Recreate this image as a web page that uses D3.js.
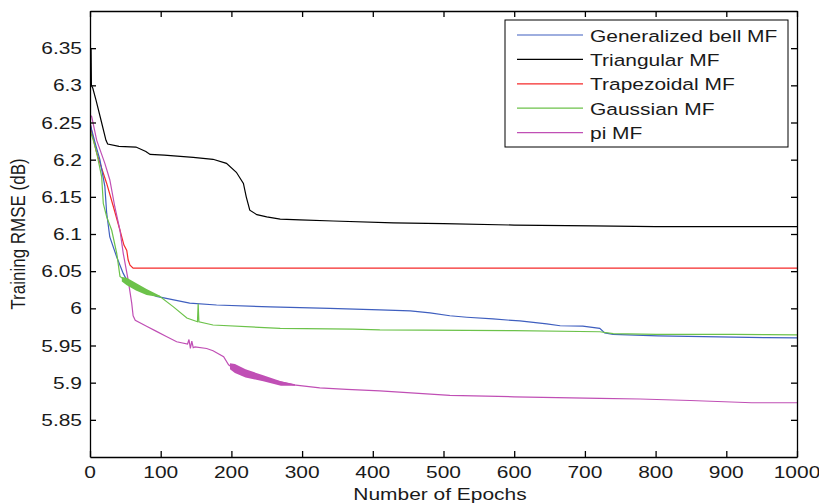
<!DOCTYPE html>
<html>
<head>
<meta charset="utf-8">
<script src="https://cdn.jsdelivr.net/npm/d3@7"></script>
<style>
  html, body { margin: 0; padding: 0; background: #fff; }
  svg text { font-family: "Liberation Sans", Arial, sans-serif; fill: #1a1a1a; }
</style>
</head>
<body>
<script>
// series names, in legend order
const seriesNames = ["Generalized bell MF", "Triangular MF", "Trapezoidal MF", "Gaussian MF", "pi MF"];
const seriesColors = ["#3f5fbf", "#000000", "#f52a2a", "#6cc24a", "#c04fb5"];

// [epoch, training RMSE]
const bellMF = [[0,6.25],[2.4,6.24],[8,6.22],[14,6.2],[21,6.164],[23.6,6.128],[28,6.096],[37.8,6.069],[47,6.047],[52,6.038],[56.6,6.034],[75,6.024],[94,6.016],[141,6.007],[179,6.0045],[255,6.002],[339,6.0],[410,5.998],[453,5.9965],[481,5.994],[509,5.99],[533,5.988],[570,5.9857],[608,5.983],[646,5.979],[665,5.9766],[697,5.976],[721,5.973],[728,5.967],[740,5.965],[803,5.963],[957,5.9605],[1000,5.9603]];
const triangularMF = [[0,6.33],[0.5,6.36],[1,6.31],[1.5,6.35],[2,6.3],[4,6.296],[8.5,6.28],[15.6,6.253],[22.6,6.226],[25,6.221],[41,6.218],[65,6.217],[79,6.211],[85,6.207],[105,6.206],[146,6.203],[174,6.2005],[193,6.195],[207,6.183],[217,6.168],[221,6.15],[226,6.132],[236,6.126],[250,6.123],[269,6.12],[297,6.119],[344,6.1175],[429,6.115],[500,6.114],[600,6.112],[711,6.111],[800,6.11],[1000,6.11]];
const trapezoidalMF = [[0,6.25],[3,6.235],[9.5,6.209],[16,6.19],[23.6,6.168],[33,6.137],[42.4,6.105],[48,6.085],[52,6.078],[54,6.065],[56.6,6.058],[61,6.054],[1000,6.054]];
const gaussianMF = [[0,6.24],[4.7,6.226],[9.5,6.209],[16.5,6.177],[18.8,6.141],[23.6,6.123],[30.7,6.105],[37.8,6.074],[42.4,6.043],[52,6.036],[80,6.022],[99,6.016],[118,6.002],[137,5.987],[152,5.982],[153,6.006],[154,5.982],[174,5.9776],[269,5.973],[372,5.972],[410,5.971],[600,5.97],[721,5.9685],[740,5.966],[801,5.965],[910,5.965],[957,5.9645],[1000,5.9643]];
const piMF = [[0,6.26],[2.4,6.258],[9.5,6.226],[21,6.195],[28,6.173],[35,6.137],[42.4,6.105],[47,6.074],[54,6.038],[59,6.007],[61,5.99],[64,5.984],[80,5.976],[94,5.969],[108,5.962],[122.6,5.955],[138,5.952],[140,5.958],[142,5.946],[144,5.956],[146,5.947],[148.5,5.948],[165,5.946],[174,5.943],[189,5.935],[196,5.924],[203,5.919],[245,5.906],[288,5.897],[325,5.893],[363,5.891],[410,5.889],[509,5.883],[600,5.881],[721,5.879],[778,5.878],[849,5.876],[936,5.873],[1000,5.873]];

// oscillation envelopes [epoch, high, low]
const gaussianBand = [[45,6.042,6.036],[52,6.041,6.031],[65,6.034,6.024],[80,6.026,6.018],[99,6.017,6.015]];
const piBand = [[198,5.926,5.918],[205,5.925,5.913],[220,5.918,5.907],[245,5.91,5.902],[270,5.902,5.896],[290,5.898,5.896]];

const xTicks = [0,100,200,300,400,500,600,700,800,900,1000];
const yTicks = [5.85,5.9,5.95,6,6.05,6.1,6.15,6.2,6.25,6.3,6.35];

const series = [bellMF, triangularMF, trapezoidalMF, gaussianMF, piMF];

const width = 819, height = 503;
const plot = { left: 90, right: 797, top: 11, bottom: 457 };
const fontSize = 16.5, stretch = 1.27;

const x = d3.scaleLinear().domain([0, 1000]).range([plot.left, plot.right]);
const y = d3.scaleLinear().domain([5.8, 6.4]).range([plot.bottom, plot.top]);

const svg = d3.select("body").append("svg").attr("width", width).attr("height", height);

svg.append("clipPath").attr("id", "clip")
  .append("rect")
  .attr("x", plot.left).attr("y", plot.top)
  .attr("width", plot.right - plot.left).attr("height", plot.bottom - plot.top);

const lines = svg.append("g").attr("clip-path", "url(#clip)");

const line = d3.line().x((d) => x(d[0])).y((d) => y(d[1]));
const band = d3.area().x((d) => x(d[0])).y0((d) => y(d[2])).y1((d) => y(d[1]));

// draw black first so the colored curves sit on top of it
[1, 2, 0, 3, 4].forEach((i) => {
  lines.append("path")
    .attr("d", line(series[i]))
    .attr("fill", "none")
    .attr("stroke", seriesColors[i])
    .attr("stroke-width", 1.2);
});

lines.append("path").attr("d", band(gaussianBand)).attr("fill", seriesColors[3]);
lines.append("path").attr("d", band(piBand)).attr("fill", seriesColors[4]);

// axes box with inward ticks on all four sides
const axisStyle = (g) => {
  g.selectAll("path, line").attr("stroke", "#000").attr("stroke-width", 1.3);
};
svg.append("g").attr("transform", `translate(0,${plot.bottom})`)
  .call(d3.axisBottom(x).tickValues(xTicks).tickSizeInner(-6).tickSizeOuter(0).tickFormat(""))
  .call(axisStyle);
svg.append("g").attr("transform", `translate(0,${plot.top})`)
  .call(d3.axisTop(x).tickValues(xTicks).tickSizeInner(-6).tickSizeOuter(0).tickFormat(""))
  .call(axisStyle);
svg.append("g").attr("transform", `translate(${plot.left},0)`)
  .call(d3.axisLeft(y).tickValues(yTicks).tickSizeInner(-6).tickSizeOuter(0).tickFormat(""))
  .call(axisStyle);
svg.append("g").attr("transform", `translate(${plot.right},0)`)
  .call(d3.axisRight(y).tickValues(yTicks).tickSizeInner(-6).tickSizeOuter(0).tickFormat(""))
  .call(axisStyle);

// tick labels (the source picture is stretched sideways, so the text is too)
svg.selectAll(".ylab")
  .data(yTicks)
  .enter()
  .append("text")
  .attr("class", "ylab")
  .attr("text-anchor", "end")
  .attr("font-size", fontSize)
  .attr("transform", (d) => `translate(82,${y(d) + 6}) scale(${stretch},1)`)
  .text((d) => d3.format("")(+d.toFixed(2)));

svg.selectAll(".xlab")
  .data(xTicks)
  .enter()
  .append("text")
  .attr("class", "xlab")
  .attr("text-anchor", "middle")
  .attr("font-size", fontSize)
  .attr("transform", (d) => `translate(${x(d)},${plot.bottom + 21}) scale(${stretch},1)`)
  .text((d) => d);

svg.append("text")
  .attr("text-anchor", "middle")
  .attr("font-size", fontSize)
  .attr("transform", `translate(440,500) scale(${stretch},1)`)
  .text("Number of Epochs");

svg.append("text")
  .attr("text-anchor", "middle")
  .attr("font-size", fontSize)
  .attr("transform", `translate(25,234) rotate(-90) scale(1.03,${stretch})`)
  .text("Training RMSE (dB)");

// legend
const legend = svg.append("g");
legend.append("rect")
  .attr("x", 505).attr("y", 20)
  .attr("width", 283).attr("height", 127)
  .attr("fill", "#fff").attr("stroke", "#000").attr("stroke-width", 1);

const rows = legend.selectAll(".row")
  .data(seriesNames)
  .enter()
  .append("g")
  .attr("class", "row")
  .attr("transform", (d, i) => `translate(0,${35 + i * 24.4})`);

rows.append("line")
  .attr("x1", 517).attr("x2", 583)
  .attr("stroke", (d, i) => seriesColors[i])
  .attr("stroke-width", 1.2);

rows.append("text")
  .attr("font-size", fontSize)
  .attr("transform", `translate(590,6.5) scale(${stretch},1)`)
  .text((d) => d);
</script>
</body>
</html>
